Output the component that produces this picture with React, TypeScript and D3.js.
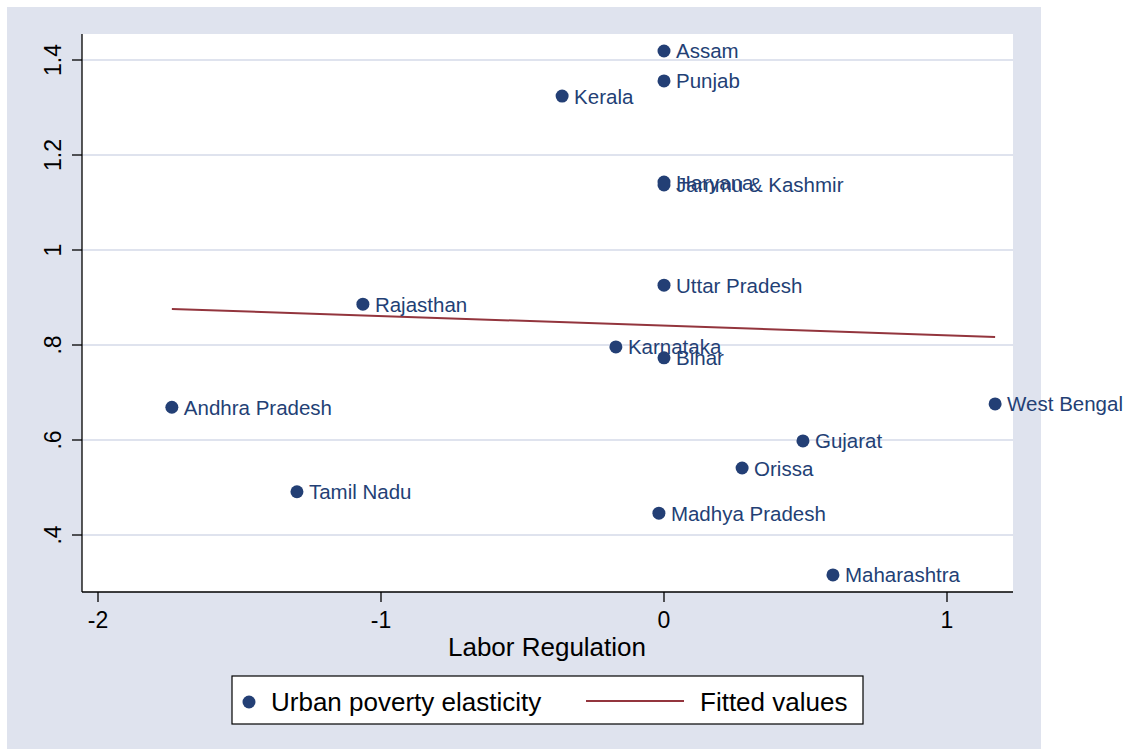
import React from "react";
import * as d3 from "d3";

const states = ["Assam","Punjab","Kerala","Haryana","Jammu & Kashmir","Uttar Pradesh","Rajasthan","Karnataka","Bihar","Andhra Pradesh","West Bengal","Gujarat","Orissa","Tamil Nadu","Madhya Pradesh","Maharashtra"];
const laborReg = [0,0,-0.36,0,0,0,-1.064,-0.17,0,-1.739,1.17,0.491,0.276,-1.297,-0.018,0.597];
const elasticity = [1.419,1.356,1.324,1.143,1.137,0.926,0.886,0.796,0.773,0.669,0.676,0.598,0.541,0.491,0.446,0.316];
const fittedX = [-1.739, 1.17];
const fittedY = [0.876, 0.817];
const xTicks = [-2,-1,0,1];
const yTicks = [0.4,0.6,0.8,1,1.2,1.4];
const yTickLabels = [".4",".6",".8","1","1.2","1.4"];

const NAVY = "#233f75";
const RED = "#93353d";
const BG = "#dfe3ee";
const FONT = "Liberation Sans, Arial, sans-serif";

export default function App() {
  const L = 82, R = 1013, T = 34, B = 592;
  const x = d3.scaleLinear().domain([-2, 1]).range([98, 947]);
  const y = d3.scaleLinear().domain([0.4, 1.4]).range([535, 60]);
  const line = d3.line<number>().x((_, i) => x(fittedX[i])).y((d) => y(d));
  return (
    <svg width={1134} height={756} style={{ position: "absolute", left: 0, top: 0 }} fontFamily={FONT}>
      <rect x={0} y={0} width={1134} height={756} fill="#fff" />
      <rect x={7} y={7} width={1034} height={742} fill={BG} />
      <rect x={L} y={T} width={R - L} height={B - T} fill="#fff" />
      {yTicks.map((t) => (
        <line key={"g" + t} x1={L} x2={R} y1={y(t)} y2={y(t)} stroke={BG} strokeWidth={2} />
      ))}
      <line x1={L} x2={L} y1={T} y2={B} stroke="#000" strokeWidth={1.3} />
      <line x1={L} x2={R} y1={B} y2={B} stroke="#000" strokeWidth={1.3} />
      {yTicks.map((t, i) => (
        <g key={"y" + t}>
          <line x1={L - 10} x2={L} y1={y(t)} y2={y(t)} stroke="#000" strokeWidth={1.3} />
          <text transform={`translate(61,${y(t)}) rotate(-90)`} textAnchor="middle" fontSize={23} fill="#000">{yTickLabels[i]}</text>
        </g>
      ))}
      {xTicks.map((t) => (
        <g key={"x" + t}>
          <line x1={x(t)} x2={x(t)} y1={B} y2={B + 10} stroke="#000" strokeWidth={1.3} />
          <text x={x(t)} y={628} textAnchor="middle" fontSize={23} fill="#000">{t}</text>
        </g>
      ))}
      <text x={547} y={656} textAnchor="middle" fontSize={26} fill="#000">Labor Regulation</text>
      <path d={line(fittedY) || ""} fill="none" stroke={RED} strokeWidth={2} />
      {states.map((s, i) => (
        <g key={s}>
          <circle cx={x(laborReg[i])} cy={y(elasticity[i])} r={6.5} fill={NAVY} />
          <text x={x(laborReg[i]) + 12} y={y(elasticity[i]) + 7.5} fontSize={20.5} fill={NAVY}>{s}</text>
        </g>
      ))}
      <rect x={232} y={676} width={631} height={48} fill="#fff" stroke="#000" strokeWidth={1.2} />
      <circle cx={249} cy={702} r={6.5} fill={NAVY} />
      <text x={271} y={711} fontSize={26} fill="#000">Urban poverty elasticity</text>
      <line x1={586} x2={684} y1={701} y2={701} stroke={RED} strokeWidth={2} />
      <text x={700} y={711} fontSize={26} fill="#000">Fitted values</text>
    </svg>
  );
}
